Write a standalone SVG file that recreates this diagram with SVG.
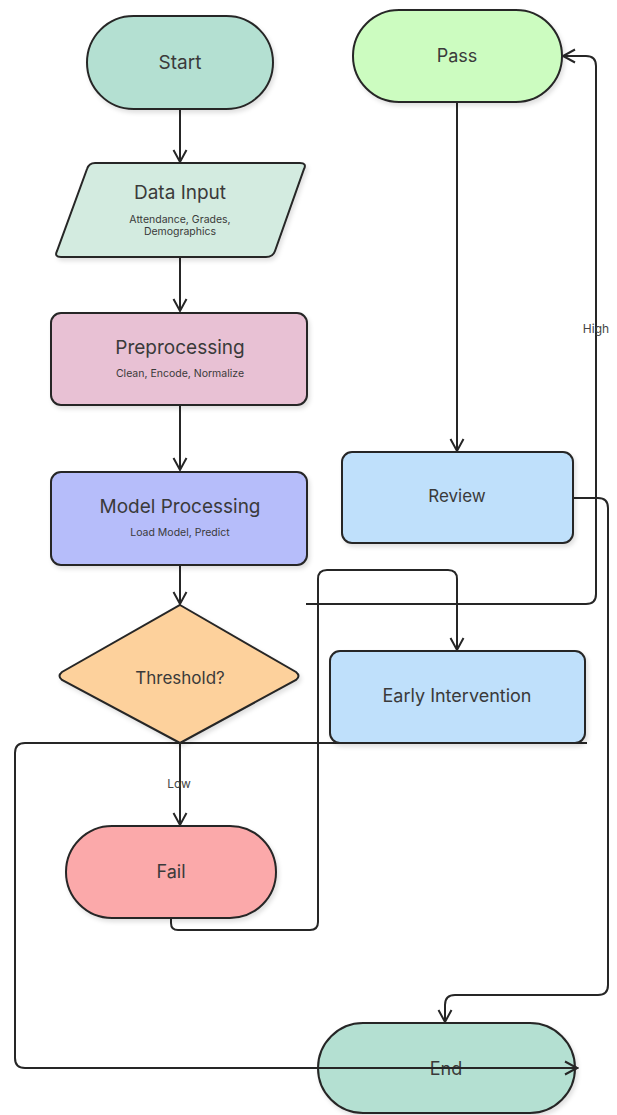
<svg xmlns="http://www.w3.org/2000/svg" width="617" height="1115" viewBox="0 0 617 1115">
<style>
.node{stroke:#262626;stroke-width:2}
.t{font-family:Inter,"Noto Sans",sans-serif;fill:#3a3a3a;text-anchor:middle;dominant-baseline:central}
.title{font-size:19px}
.sub{font-size:10.5px}
.lbl{font-size:12px;fill:#444}
.conn{fill:none;stroke:#262626;stroke-width:2}
</style>
<defs>
<marker id="arr" markerUnits="userSpaceOnUse" markerWidth="16" markerHeight="16" refX="13" refY="8" orient="auto">
<path d="M1,1.5 L13,8 L1,14.5" fill="none" stroke="#262626" stroke-width="2"/>
</marker>
<filter id="sh" x="-10%" y="-10%" width="130%" height="140%">
<feDropShadow dx="2" dy="3" stdDeviation="2" flood-color="#000" flood-opacity="0.12"/>
</filter>
</defs>
<rect width="617" height="1115" fill="#fff"/>
<g id="connectors">
<path class="conn" d="M180 109 V162" marker-end="url(#arr)"/>
<path class="conn" d="M180 257 V311" marker-end="url(#arr)"/>
<path class="conn" d="M180 405 V470" marker-end="url(#arr)"/>
<path class="conn" d="M180 565 V604" marker-end="url(#arr)"/>
<path class="conn" d="M457 102 V451" marker-end="url(#arr)"/>
<path class="conn" d="M180 743 V825" marker-end="url(#arr)"/>
<path class="conn" d="M306 604 H586 Q596 604 596 594 V66 Q596 56 586 56 H563" marker-end="url(#arr)"/>
<path class="conn" d="M171 918 V923 Q171 930 178 930 H310 Q318 930 318 922 V579 Q318 570 327 570 H448 Q457 570 457 579 V650" marker-end="url(#arr)"/>
<path class="conn" d="M573 498 H598 Q608 498 608 508 V985 Q608 995 598 995 H455 Q445 995 445 1005 V1022" marker-end="url(#arr)"/>
<path class="conn" d="M587 743 H25 Q15 743 15 753 V1058 Q15 1068 25 1068 H577" marker-end="url(#arr)"/>
<text class="t lbl" x="179" y="783">Low</text>
<text class="t lbl" x="596" y="328">High</text>
</g>
<g id="start">
<rect class="node" x="87" y="16" width="186" height="93" rx="46.5" fill="#b4e0d2" filter="url(#sh)"/>
<text class="t title" x="180" y="62">Start</text>
</g>
<g id="data-input">
<path class="node" d="M95 163 H300 Q307 163 304 169 L275 251 Q273 257 266 257 H61 Q54 257 57 251 L87 169 Q89 163 95 163 Z" fill="#d3ebe0" filter="url(#sh)"/>
<text class="t title" x="180" y="192">Data Input</text>
<text class="t sub" x="180" y="219">Attendance, Grades,</text>
<text class="t sub" x="180" y="231">Demographics</text>
</g>
<g id="preprocessing">
<rect class="node" x="51" y="313" width="256" height="92" rx="10" fill="#e8c1d4" filter="url(#sh)"/>
<text class="t title" x="180" y="347">Preprocessing</text>
<text class="t sub" x="180" y="373">Clean, Encode, Normalize</text>
</g>
<g id="model-processing">
<rect class="node" x="51" y="472" width="256" height="93" rx="10" fill="#b6bdfa" filter="url(#sh)"/>
<text class="t title" x="180" y="506">Model Processing</text>
<text class="t sub" x="180" y="532">Load Model, Predict</text>
</g>
<g id="threshold">
<path class="node" d="M180 605 L296 672 Q301 676 296 680 L180 743 L62 680 Q57 676 62 672 Z" fill="#fdd19c" filter="url(#sh)"/>
<text class="t" style="font-size:17px" x="180" y="678">Threshold?</text>
</g>
<g id="fail">
<rect class="node" x="66" y="826" width="210" height="92" rx="46" fill="#fba9aa" filter="url(#sh)"/>
<text class="t" style="font-size:18px" x="171" y="871">Fail</text>
</g>
<g id="pass">
<rect class="node" x="353" y="10" width="209" height="92" rx="46" fill="#ccfcc0" filter="url(#sh)"/>
<text class="t" style="font-size:18px" x="457" y="55">Pass</text>
</g>
<g id="review">
<rect class="node" x="342" y="452" width="231" height="91" rx="10" fill="#bfe0fb" filter="url(#sh)"/>
<text class="t" style="font-size:17px" x="457" y="496">Review</text>
</g>
<g id="early-intervention">
<rect class="node" x="330" y="651" width="255" height="92" rx="10" fill="#bfe0fb" filter="url(#sh)"/>
<text class="t" style="font-size:18px" x="457" y="695">Early Intervention</text>
</g>
<g id="end">
<rect class="node" x="318" y="1023" width="257" height="90" rx="45" fill="#b4e0d2" filter="url(#sh)"/>
<text class="t" style="font-size:18px" x="446" y="1068">End</text>
</g>
<path class="conn" d="M318 1068 H577" marker-end="url(#arr)"/>
</svg>
